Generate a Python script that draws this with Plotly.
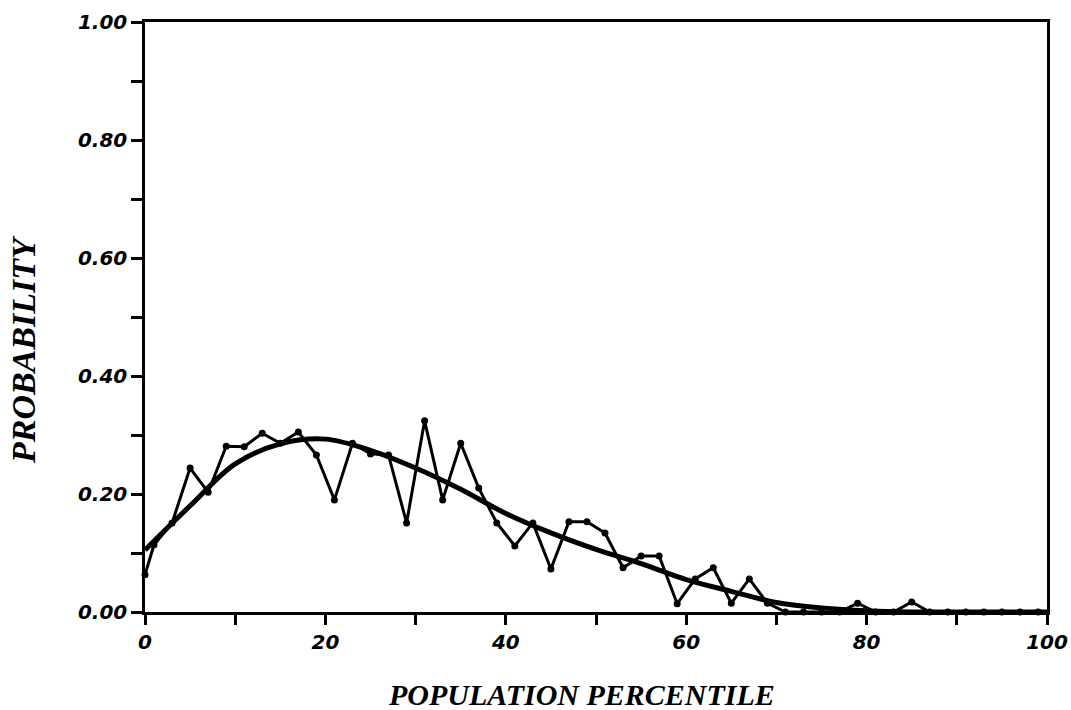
import plotly.graph_objects as go

# Observed (jagged) series
obs_x = [0, 1, 3, 5, 7, 9, 11, 13, 15, 17, 19, 21, 23, 25, 27, 29, 31, 33, 35, 37,
         39, 41, 43, 45, 47, 49, 51, 53, 55, 57, 59, 61, 63, 65, 67, 69, 71, 73, 75,
         77, 79, 81, 83, 85, 87, 89, 91, 93, 95, 97, 99]
obs_y = [0.063, 0.114, 0.151, 0.244, 0.203, 0.281, 0.280, 0.303, 0.286, 0.305,
         0.266, 0.190, 0.286, 0.268, 0.266, 0.151, 0.324, 0.190, 0.286, 0.210,
         0.151, 0.112, 0.151, 0.073, 0.153, 0.153, 0.134, 0.075, 0.095, 0.095,
         0.014, 0.056, 0.075, 0.015, 0.056, 0.015, 0.0, 0.0, 0.0, 0.0,
         0.015, 0.0, 0.0, 0.017, 0.0, 0.0, 0.0, 0.0, 0.0, 0.0, 0.0]

# Fitted smooth curve
fit_x = [0, 5, 10, 15, 20, 25, 30, 35, 40, 45, 50, 55, 60, 65, 70, 75, 80, 85, 90, 95, 100]
fit_y = [0.105, 0.180, 0.251, 0.285, 0.293, 0.274, 0.244, 0.208, 0.167, 0.134,
         0.106, 0.082, 0.055, 0.035, 0.016, 0.007, 0.002, 0.0, 0.0, 0.0, 0.0]

x_ticks = [0, 10, 20, 30, 40, 50, 60, 70, 80, 90, 100]
x_labels = ["0", "", "20", "", "40", "", "60", "", "80", "", "100"]
y_ticks = [0.0, 0.1, 0.2, 0.3, 0.4, 0.5, 0.6, 0.7, 0.8, 0.9, 1.0]
y_labels = ["0.00", "", "0.20", "", "0.40", "", "0.60", "", "0.80", "", "1.00"]

fig = go.Figure()
fig.add_trace(go.Scatter(x=fit_x, y=fit_y, mode="lines",
                         line=dict(color="black", width=5, shape="spline", smoothing=1.0),
                         showlegend=False, cliponaxis=False))
fig.add_trace(go.Scatter(x=obs_x, y=obs_y, mode="lines+markers",
                         line=dict(color="black", width=3),
                         marker=dict(color="black", size=7),
                         showlegend=False, cliponaxis=False))

tickfont = dict(family="DejaVu Sans", size=20, color="black", weight="bold", style="italic")
xtitlefont = dict(family="Liberation Serif", size=30, color="black", weight="bold", style="italic")
ytitlefont = dict(family="Liberation Serif", size=34, color="black", weight="bold", style="italic")

L, R, T, B = 145, 24, 22, 98
W, H = 1071, 710
pw = W - L - R
ph = H - T - B

fig.update_layout(
    width=W, height=H,
    margin=dict(l=L, r=R, t=T, b=B, autoexpand=False),
    plot_bgcolor="white", paper_bgcolor="white",
    xaxis=dict(range=[0, 100], tickvals=x_ticks, ticktext=x_labels,
               ticks="outside", ticklen=10, tickwidth=2.5, tickcolor="black",
               showline=True, linecolor="black", linewidth=2.5, mirror=True,
               showgrid=False, zeroline=False, tickfont=tickfont, automargin=False),
    yaxis=dict(range=[0, 1.0], tickvals=y_ticks, ticktext=y_labels,
               ticks="outside", ticklen=11, tickwidth=2.5, tickcolor="black",
               showline=True, linecolor="black", linewidth=2.5, mirror=True,
               showgrid=False, zeroline=False, tickfont=tickfont, automargin=False),
    annotations=[
        dict(text="POPULATION PERCENTILE", xref="paper", yref="paper",
             x=(581 - L) / pw, y=(H - B - 695) / ph,
             xanchor="center", yanchor="middle", showarrow=False, font=xtitlefont),
        dict(text="PROBABILITY", textangle=-90, xref="paper", yref="paper",
             x=(23 - L) / pw, y=(H - B - 350) / ph,
             xanchor="center", yanchor="middle", showarrow=False, font=ytitlefont),
    ],
)

fig.write_html("out.html", config={"displayModeBar": False},
               post_script="document.body.style.margin='0';document.body.style.overflow='hidden';")
